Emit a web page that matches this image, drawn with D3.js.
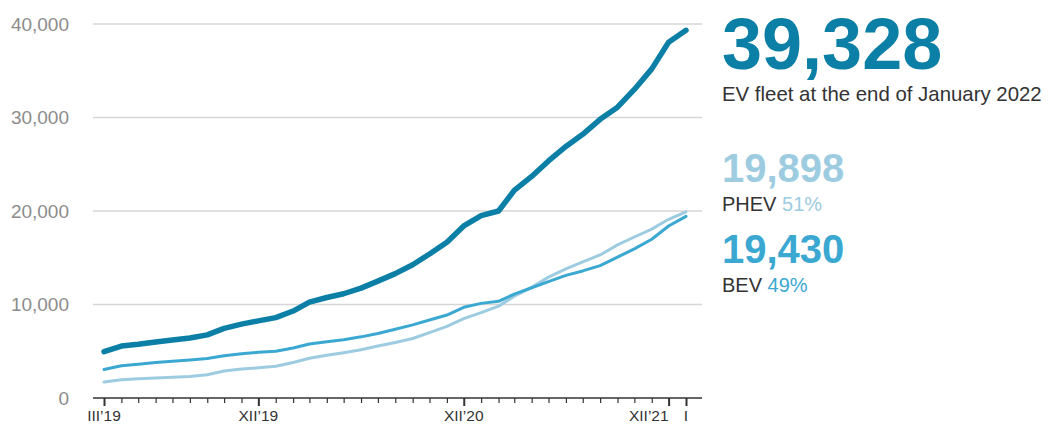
<!DOCTYPE html>
<html>
<head>
<meta charset="utf-8">
<script src="https://cdn.jsdelivr.net/npm/d3@7"></script>
<style>
  html, body { margin: 0; padding: 0; background: #fff; }
  svg { display: block; font-family: "Liberation Sans", Arial, Helvetica, sans-serif; }
</style>
</head>
<body>
<svg id="chart" width="1053" height="428"></svg>
<script>
// Monthly EV fleet, March 2019 – January 2022
const months = [
  "2019-03","2019-04","2019-05","2019-06","2019-07","2019-08","2019-09","2019-10","2019-11","2019-12",
  "2020-01","2020-02","2020-03","2020-04","2020-05","2020-06","2020-07","2020-08","2020-09","2020-10","2020-11","2020-12",
  "2021-01","2021-02","2021-03","2021-04","2021-05","2021-06","2021-07","2021-08","2021-09","2021-10","2021-11","2021-12",
  "2022-01"
];
const totalFleet = [
  4950, 5550, 5750, 6000, 6200, 6420, 6750, 7450, 7900, 8250,
  8600, 9300, 10250, 10750, 11150, 11750, 12500, 13300, 14250, 15400, 16650, 18400,
  19500, 20000, 22200, 23700, 25350, 26900, 28200, 29800, 31100, 33000, 35200, 38050,
  39328
];
const bevFleet = [
  3050, 3450, 3620, 3790, 3930, 4060, 4230, 4510, 4730, 4890,
  5000, 5340, 5770, 6020, 6240, 6540, 6900, 7350, 7820, 8340, 8870, 9700,
  10120, 10340, 11110, 11790, 12450, 13110, 13590, 14160, 15070, 15950, 16980, 18390,
  19430
];
const phevFleet = [
  1700, 1950, 2050, 2130, 2210, 2300, 2480, 2880, 3090, 3230,
  3400, 3800, 4250, 4580, 4850, 5160, 5560, 5940, 6360, 6990, 7670, 8490,
  9130, 9820, 10890, 11840, 12930, 13820, 14550, 15300, 16380, 17220, 18060, 19110,
  19898
];
const yTicks = [0, 10000, 20000, 30000, 40000];
const xTickMonths = ["2019-03", "2019-12", "2020-12", "2021-12", "2022-01"];
const xTickLabels = ["III’19", "XII’19", "XII’20", "XII’21", "I"];

const headline = { value: "39,328", caption: "EV fleet at the end of January 2022" };
const shares = [
  { value: "19,898", name: "PHEV", pct: "51%" },
  { value: "19,430", name: "BEV",  pct: "49%" }
];

const colors = { total: "#0b7fa6", bev: "#3aa8d1", phev: "#9dcce1" };

const parseMonth = d3.timeParse("%Y-%m");
const dates = months.map(parseMonth);

const svg = d3.select("#chart");

const plot = { left: 93, right: 702, top: 24, bottom: 398 };
const x = d3.scaleTime()
  .domain(d3.extent(dates))
  .range([104, 686]);
const y = d3.scaleLinear()
  .domain([0, 40000])
  .range([plot.bottom, plot.top]);

// horizontal gridlines
svg.append("g")
  .selectAll("line")
  .data(yTicks.filter(d => d > 0))
  .join("line")
  .attr("x1", plot.left).attr("x2", plot.right)
  .attr("y1", d => y(d)).attr("y2", d => y(d))
  .attr("stroke", "#d6d6d6").attr("stroke-width", 1.3);

// y tick labels
const fmt = d3.format(",");
svg.append("g")
  .selectAll("text")
  .data(yTicks)
  .join("text")
  .attr("x", 69).attr("y", d => y(d))
  .attr("dy", "0.35em")
  .attr("text-anchor", "end")
  .attr("font-size", 19)
  .attr("fill", "#8c8c8c")
  .text(d => fmt(d));

// x axis: monthly ticks, labelled months longer
const majorSet = new Set(xTickMonths);
const xAxis = d3.axisBottom(x)
  .tickValues(dates)
  .tickSize(5)
  .tickSizeOuter(0)
  .tickFormat("");
const gx = svg.append("g")
  .attr("transform", `translate(0,${plot.bottom})`)
  .call(xAxis);
gx.select(".domain").remove();
gx.selectAll(".tick line")
  .attr("stroke", "#333")
  .attr("y2", (d, i) => majorSet.has(months[i]) ? 8 : 5)
  .attr("stroke-width", (d, i) => majorSet.has(months[i]) ? 2 : 1.2);
gx.append("line")
  .attr("x1", plot.left).attr("x2", plot.right)
  .attr("stroke", "#333").attr("stroke-width", 1.5);

const tickPos = xTickMonths.map(m => x(parseMonth(m)));
// a label crowded by the next one sits to the left of its tick
const crowded = i => i < tickPos.length - 1 && tickPos[i + 1] - tickPos[i] < 30;
gx.selectAll(".xlabel")
  .data(xTickLabels)
  .join("text")
  .attr("class", "xlabel")
  .attr("x", (d, i) => crowded(i) ? tickPos[i] : tickPos[i])
  .attr("y", 23)
  .attr("text-anchor", (d, i) => crowded(i) ? "end" : "middle")
  .attr("font-size", 15.5)
  .attr("fill", "#333")
  .text(d => d);

// series lines
const line = values => d3.line()
  .x((d, i) => x(dates[i]))
  .y(d => y(d))(values);

const series = [
  { values: phevFleet, color: colors.phev, width: 3 },
  { values: bevFleet, color: colors.bev, width: 3 },
  { values: totalFleet, color: colors.total, width: 5.5 }
];
svg.append("g")
  .selectAll("path")
  .data(series)
  .join("path")
  .attr("d", d => line(d.values))
  .attr("fill", "none")
  .attr("stroke", d => d.color)
  .attr("stroke-width", d => d.width)
  .attr("stroke-linejoin", "round")
  .attr("stroke-linecap", "round");

// summary panel
const panelX = 722;
svg.append("text")
  .attr("x", panelX).attr("y", 69)
  .attr("font-size", 72).attr("font-weight", "bold")
  .attr("fill", colors.total)
  .text(headline.value);
svg.append("text")
  .attr("x", panelX).attr("y", 101)
  .attr("font-size", 20.4)
  .attr("fill", "#333")
  .text(headline.caption);

const shareColors = [colors.phev, colors.bev];
const shareBase = [182, 263];
shares.forEach((s, i) => {
  svg.append("text")
    .attr("x", panelX).attr("y", shareBase[i])
    .attr("font-size", 40).attr("font-weight", "bold")
    .attr("fill", shareColors[i])
    .text(s.value);
  const t = svg.append("text")
    .attr("x", panelX).attr("y", shareBase[i] + 29)
    .attr("font-size", 20)
    .attr("fill", "#333");
  t.append("tspan").text(s.name + " ");
  t.append("tspan").attr("fill", shareColors[i]).text(s.pct);
});
</script>
</body>
</html>
